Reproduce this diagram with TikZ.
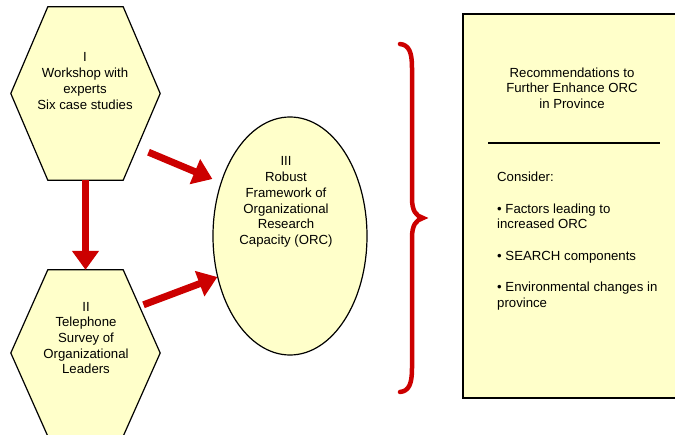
\documentclass[tikz,border=0pt]{standalone}
\usepackage{fontspec}
\setmainfont{Liberation Sans}
\usetikzlibrary{shapes.geometric,arrows.meta,calc}
\definecolor{paleyellow}{HTML}{FFFFCA}
\definecolor{arrowred}{HTML}{CC0000}
\tikzset{
    phasebox/.style={rectangle, minimum width=149pt, inner sep=0pt},
    hexline/.style={draw, line width=1.2pt, fill=paleyellow, line join=miter},
    phasetext/.style={align=center, inner sep=0pt, font=\fontsize{13.2}{15.7}\selectfont},
    bigarrow/.style={draw=arrowred, line width=7pt, -{Triangle[length=19pt,width=26pt]}},
}
% hexagon round a named box
\newcommand{\hexround}[1]{%
    \draw[hexline] (#1.west) -- ([xshift=37pt]#1.north west) -- ([xshift=-37pt]#1.north east)
        -- (#1.east) -- ([xshift=-37pt]#1.south east) -- ([xshift=37pt]#1.south west) -- cycle;}

\begin{document}
\begin{tikzpicture}[x=1pt, y=-1pt]
    \useasboundingbox (0,0) rectangle (675,435);
    \clip (0,0) rectangle (675,435);

    % phase I and II
    \node[phasebox, minimum height=173pt] (workshop) at (85.5,93.5) {};
    \hexround{workshop}
    \node[phasetext] (workshop-text) at (85,81) {I\\Workshop with\\experts\\Six case studies};
    \node[phasebox, minimum height=166pt] (survey) at (85.5,353) {};
    \hexround{survey}
    \node[phasetext] (survey-text) at (86,338) {II\\Telephone\\Survey of\\Organizational\\Leaders};

    % phase III
    \node[ellipse, draw, line width=1.2pt, fill=paleyellow, inner sep=0pt,
        minimum width=154pt, minimum height=238pt] (framework) at (290,236) {};
    \node[phasetext] (framework-text) at (286,202)
        {III\\Robust\\Framework of\\Organizational\\Research\\Capacity (ORC)};

    \draw[bigarrow] (workshop.south) -- (survey.north);
    \draw[bigarrow] ([xshift=63pt,yshift=28pt]workshop.south) -- ([yshift=57pt]framework.west);
    \draw[bigarrow] ([xshift=58pt,yshift=-35pt]survey.north) -- ([xshift=5pt,yshift=-41pt]framework.west);

    % brace
    \draw[arrowred, line width=4.5pt, line cap=round]
        (400,44) .. controls (409,45) and (412,52) .. (412,68) -- (412,198)
        .. controls (412,211) and (416,216) .. (423,218)
        .. controls (416,220) and (412,225) .. (412,238) -- (412,368)
        .. controls (412,384) and (409,391) .. (400,392);

    % recommendations
    \draw[line width=1.5pt, fill=paleyellow] (463,14) rectangle (700,398);
    \node[phasetext] (rec-title) at (572,88) {Recommendations to\\Further Enhance ORC\\in Province};
    \draw[line width=1.2pt] (488,143) -- (660,143);
    \node[phasetext, align=left, anchor=north west] (rec-list) at (497,172)
        {Consider:\\[15.7pt]
         • Factors leading to\\increased ORC\\[15.7pt]
         • SEARCH components\\[15.7pt]
         • Environmental changes in\\province};
\end{tikzpicture}
\end{document}
